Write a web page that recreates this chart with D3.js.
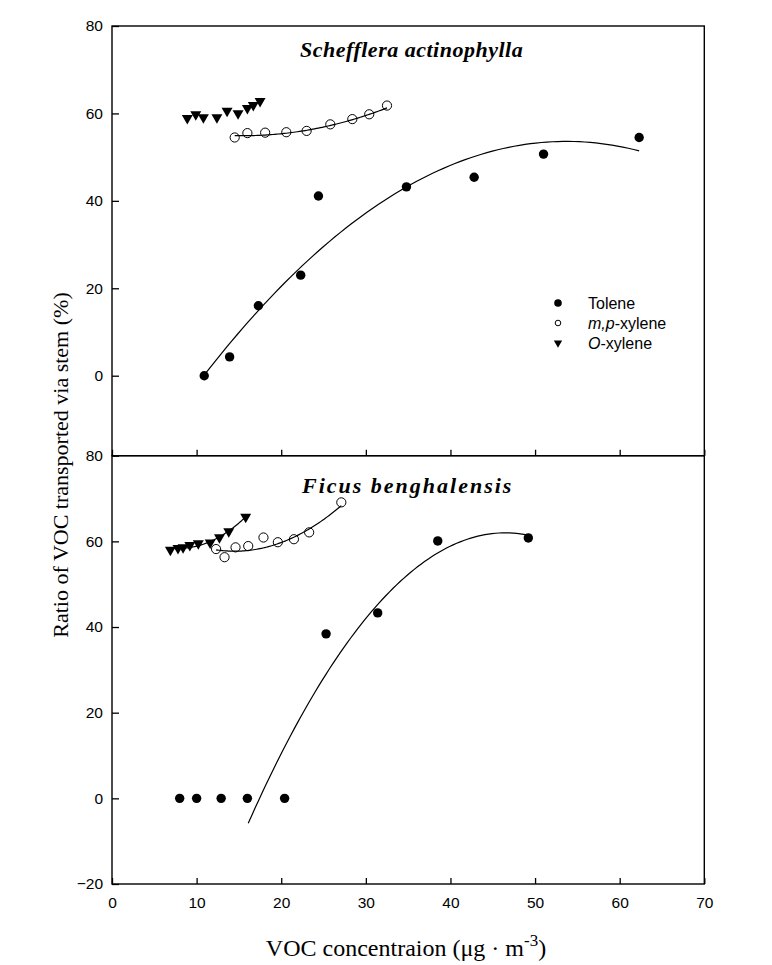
<!DOCTYPE html>
<html><head><meta charset="utf-8">
<script src="https://cdn.jsdelivr.net/npm/d3@7"></script>
<style>
body{margin:0;background:#fff;}
svg{display:block;}
</style></head>
<body>
<svg id="chart" width="772" height="965"></svg>
<script>
// ---- data ----
const xTicks = [0,10,20,30,40,50,60,70];
const topYTicks = [0,20,40,60,80];
const botYTicks = [-20,0,20,40,60,80];

// Schefflera actinophylla
const topTolX = [10.9,13.9,17.3,22.3,24.4,34.8,42.8,51.0,62.3];
const topTolY = [0,4.3,16.0,23.0,41.1,43.2,45.4,50.7,54.5];
const topMpX = [14.5,16.0,18.1,20.6,23.0,25.8,28.4,30.4,32.5];
const topMpY = [54.5,55.5,55.6,55.7,56.0,57.5,58.7,59.8,61.8];
const topOxX = [8.9,9.9,10.8,12.4,13.6,14.9,16.0,16.7,17.5];
const topOxY = [58.9,59.8,59.1,59.1,60.6,60.0,61.2,61.9,62.8];

// Ficus benghalensis
const botTolX = [8.0,10.0,12.9,16.0,20.4,25.3,31.4,38.5,49.2];
const botTolY = [0,0,0,0,0,38.4,43.3,60.1,60.8];
const botMpX = [12.3,13.3,14.6,16.1,17.9,19.6,21.5,23.3,27.1];
const botMpY = [58.2,56.3,58.6,58.9,60.9,59.8,60.5,62.1,69.1];
const botOxX = [6.9,7.8,8.4,9.2,10.2,11.6,12.7,13.8,15.8];
const botOxY = [58.0,58.4,58.6,59.1,59.5,59.7,60.9,62.3,65.7];

// quadratic regression curves: [c0, c1, c2] and x-range
const topTolFit = [-30.6, 3.136, -0.0292]; const topTolFitRange = [10.9, 62.3];
const topMpFit  = [60.19, -0.682, 0.022];  const topMpFitRange  = [14.5, 32.5];
const botTolFit = [-96.71, 6.826, -0.0734]; const botTolFitRange = [16.1, 49.5];
const botMpFit  = [71.79, -1.943, 0.067];  const botMpFitRange  = [12.3, 27.1];
const botOxFit  = [66.08, -1.92, 0.12];    const botOxFitRange  = [6.9, 15.8];

const seriesNames = ["Tolene","m,p-xylene","O-xylene"];
const titles = ["Schefflera actinophylla","Ficus benghalensis"];

// ---- layout ----
const svg = d3.select("#chart");
const L = 112, R = 704.3;
const topT = 26, mid = 455.7, botB = 884;
const x = d3.scaleLinear().domain([0,70]).range([L,R]);
const yTop = d3.scaleLinear().domain([-18.3,80]).range([mid, topT]);
const yBot = d3.scaleLinear().domain([-20,80]).range([botB, mid]);

const tickFont = "'Liberation Sans', Arial, sans-serif";
const serif = "'Liberation Serif', 'Times New Roman', serif";

function quad(c, v){ return c[0] + c[1]*v + c[2]*v*v; }

function panel(y, yTicks, showXLabels, yBottomPx, yTopPx){
  const g = svg.append("g");
  const ya = d3.axisLeft(y).tickValues(yTicks).tickSizeInner(-7).tickSizeOuter(0).tickPadding(9);
  const yg = g.append("g").attr("transform",`translate(${L},0)`).call(ya);
  yg.select(".domain").remove();
  yg.selectAll("line").attr("stroke","#000").attr("stroke-width",1.3);
  yg.selectAll("text").attr("font-family",tickFont).attr("font-size",15.5).attr("fill","#000");
  const xa = d3.axisBottom(x).tickValues(xTicks).tickSizeInner(-6).tickSizeOuter(0).tickPadding(13);
  if(!showXLabels) xa.tickFormat("");
  const xg = g.append("g").attr("transform",`translate(0,${yBottomPx})`).call(xa);
  xg.select(".domain").remove();
  xg.selectAll("line").attr("stroke","#000").attr("stroke-width",1.3);
  xg.selectAll("text").attr("font-family",tickFont).attr("font-size",15.5).attr("fill","#000");
  g.append("rect").attr("x",L).attr("y",yTopPx).attr("width",R-L).attr("height",yBottomPx-yTopPx)
    .attr("fill","none").attr("stroke","#000").attr("stroke-width",1.4);
  return g;
}

function fitLine(g, y, coef, range){
  const xs = d3.range(range[0], range[1]+0.001, (range[1]-range[0])/80);
  const line = d3.line().x(d=>x(d)).y(d=>y(quad(coef,d)));
  g.append("path").datum(xs).attr("d",line).attr("fill","none").attr("stroke","#000").attr("stroke-width",1.2);
}

const triSym = d3.symbol().type(d3.symbolTriangle).size(52);
function markers(g, y, xs, ys, kind){
  const data = xs.map((v,i)=>[v, ys[i]]);
  if(kind==="filled"){
    g.selectAll(null).data(data).join("circle")
      .attr("cx",d=>x(d[0])).attr("cy",d=>y(d[1])).attr("r",4.7).attr("fill","#000");
  } else if(kind==="open"){
    g.selectAll(null).data(data).join("circle")
      .attr("cx",d=>x(d[0])).attr("cy",d=>y(d[1])).attr("r",4.6)
      .attr("fill","none").attr("stroke","#000").attr("stroke-width",1);
  } else {
    g.selectAll(null).data(data).join("path")
      .attr("d",triSym)
      .attr("transform",d=>`translate(${x(d[0])},${y(d[1])}) rotate(180)`)
      .attr("fill","#000");
  }
}

// top panel
const gTop = panel(yTop, topYTicks, false, mid, topT);
fitLine(gTop, yTop, topTolFit, topTolFitRange);
fitLine(gTop, yTop, topMpFit, topMpFitRange);
markers(gTop, yTop, topTolX, topTolY, "filled");
markers(gTop, yTop, topMpX, topMpY, "open");
markers(gTop, yTop, topOxX, topOxY, "tri");
gTop.append("text").attr("x",300).attr("y",57).attr("text-anchor","start")
  .attr("font-family",serif).attr("font-size",22).attr("font-weight","bold").attr("font-style","italic")
  .attr("letter-spacing",0.5).text(titles[0]);

// legend
const lg = gTop.append("g");
const legY = [303,323,343];
lg.append("circle").attr("cx",558).attr("cy",legY[0]).attr("r",3.8).attr("fill","#000");
lg.append("circle").attr("cx",558).attr("cy",legY[1]).attr("r",2.8).attr("fill","none").attr("stroke","#000").attr("stroke-width",1);
lg.append("path").attr("d",d3.symbol().type(d3.symbolTriangle).size(30)).attr("transform",`translate(558,${legY[2]}) rotate(180)`).attr("fill","#000");
const lt0 = lg.append("text").attr("x",588).attr("y",legY[0]+6).attr("font-family",tickFont).attr("font-size",16).text(seriesNames[0]);
const lt1 = lg.append("text").attr("x",588).attr("y",legY[1]+6).attr("font-family",tickFont).attr("font-size",16);
lt1.append("tspan").attr("font-style","italic").text("m,p");
lt1.append("tspan").text("-xylene");
const lt2 = lg.append("text").attr("x",588).attr("y",legY[2]+6).attr("font-family",tickFont).attr("font-size",16);
lt2.append("tspan").attr("font-style","italic").text("O");
lt2.append("tspan").text("-xylene");

// bottom panel
const gBot = panel(yBot, botYTicks, true, botB, mid);
fitLine(gBot, yBot, botTolFit, botTolFitRange);
fitLine(gBot, yBot, botMpFit, botMpFitRange);
fitLine(gBot, yBot, botOxFit, botOxFitRange);
markers(gBot, yBot, botTolX, botTolY, "filled");
markers(gBot, yBot, botMpX, botMpY, "open");
markers(gBot, yBot, botOxX, botOxY, "tri");
gBot.append("text").attr("x",302).attr("y",493).attr("text-anchor","start")
  .attr("font-family",serif).attr("font-size",22).attr("font-weight","bold").attr("font-style","italic")
  .attr("letter-spacing",2).text(titles[1]);

// axis titles
svg.append("text").attr("transform","translate(68,465) rotate(-90)").attr("text-anchor","middle")
  .attr("font-family",serif).attr("font-size",22).attr("fill","#000")
  .text("Ratio of VOC transported via stem (%)");
const xt = svg.append("text").attr("x",406).attr("y",956).attr("text-anchor","middle")
  .attr("font-family",serif).attr("font-size",24).attr("fill","#000");
xt.append("tspan").text("VOC concentraion (\u03BCg \u00B7 m");
xt.append("tspan").attr("dy",-10).attr("font-size",17).text("-3");
xt.append("tspan").attr("dy",10).text(")");
</script>
</body></html>
